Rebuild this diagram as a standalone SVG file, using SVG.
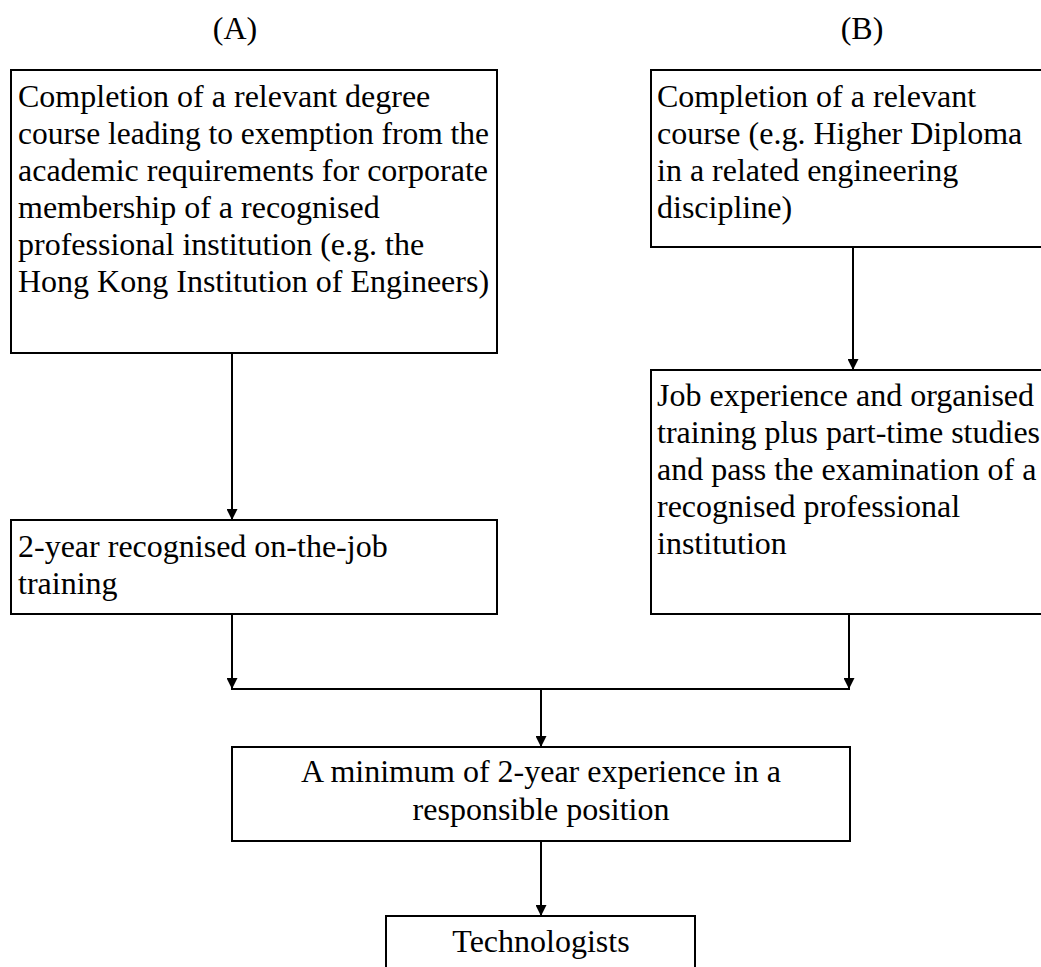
<svg xmlns="http://www.w3.org/2000/svg" width="1041" height="967" viewBox="0 0 1041 967">
  <style>
    .box { fill: #ffffff; stroke: #000000; stroke-width: 2; }
    .t { font-family: "Liberation Serif", "Times New Roman", serif; font-size: 32px; fill: #000000; }
    .c { text-anchor: middle; }
    .conn { stroke: #000000; stroke-width: 2; fill: none; }
  </style>
  <defs>
    <marker id="ah" markerWidth="11" markerHeight="11" refX="11" refY="5.5" orient="auto" markerUnits="userSpaceOnUse">
      <path d="M0,0 L11,5.5 L0,11 z" fill="#000000"/>
    </marker>
  </defs>
  <rect width="1041" height="967" fill="#ffffff"/>

  <g id="labels">
    <text class="t c" x="235" y="39">(A)</text>
    <text class="t c" x="862" y="39">(B)</text>
  </g>

  <g id="nodeA1">
    <rect class="box" x="11" y="70" width="486" height="283"/>
    <text class="t" x="18" y="107">Completion of a relevant degree</text>
    <text class="t" x="18" y="144" textLength="471" lengthAdjust="spacingAndGlyphs">course leading to exemption from the</text>
    <text class="t" x="18" y="181">academic requirements for corporate</text>
    <text class="t" x="18" y="218">membership of a recognised</text>
    <text class="t" x="18" y="255">professional institution (e.g. the</text>
    <text class="t" x="18" y="292">Hong Kong Institution of Engineers)</text>
  </g>

  <g id="nodeA2">
    <rect class="box" x="11" y="520" width="486" height="94"/>
    <text class="t" x="18" y="557">2-year recognised on-the-job</text>
    <text class="t" x="18" y="594">training</text>
  </g>

  <g id="nodeB1">
    <rect class="box" x="651" y="70" width="420" height="177"/>
    <text class="t" x="657" y="107">Completion of a relevant</text>
    <text class="t" x="657" y="144">course (e.g. Higher Diploma</text>
    <text class="t" x="657" y="181">in a related engineering</text>
    <text class="t" x="657" y="218">discipline)</text>
  </g>

  <g id="nodeB2">
    <rect class="box" x="651" y="370" width="420" height="244"/>
    <text class="t" x="657" y="406">Job experience and organised</text>
    <text class="t" x="657" y="443">training plus part-time studies</text>
    <text class="t" x="657" y="480">and pass the examination of a</text>
    <text class="t" x="657" y="517">recognised professional</text>
    <text class="t" x="657" y="554">institution</text>
  </g>

  <g id="nodeM">
    <rect class="box" x="232" y="747" width="618" height="94"/>
    <text class="t c" x="541" y="782">A minimum of 2-year experience in a</text>
    <text class="t c" x="541" y="820">responsible position</text>
  </g>

  <g id="nodeT">
    <rect class="box" x="386" y="916" width="309" height="80"/>
    <text class="t c" x="541" y="952">Technologists</text>
  </g>

  <g id="connectors">
    <line class="conn" x1="232" y1="353" x2="232" y2="520" marker-end="url(#ah)"/>
    <line class="conn" x1="853" y1="247" x2="853" y2="370" marker-end="url(#ah)"/>
    <line class="conn" x1="232" y1="614" x2="232" y2="689" marker-end="url(#ah)"/>
    <line class="conn" x1="849" y1="614" x2="849" y2="689" marker-end="url(#ah)"/>
    <line class="conn" x1="231" y1="689" x2="850" y2="689"/>
    <line class="conn" x1="541" y1="689" x2="541" y2="747" marker-end="url(#ah)"/>
    <line class="conn" x1="541" y1="841" x2="541" y2="916" marker-end="url(#ah)"/>
  </g>
</svg>
